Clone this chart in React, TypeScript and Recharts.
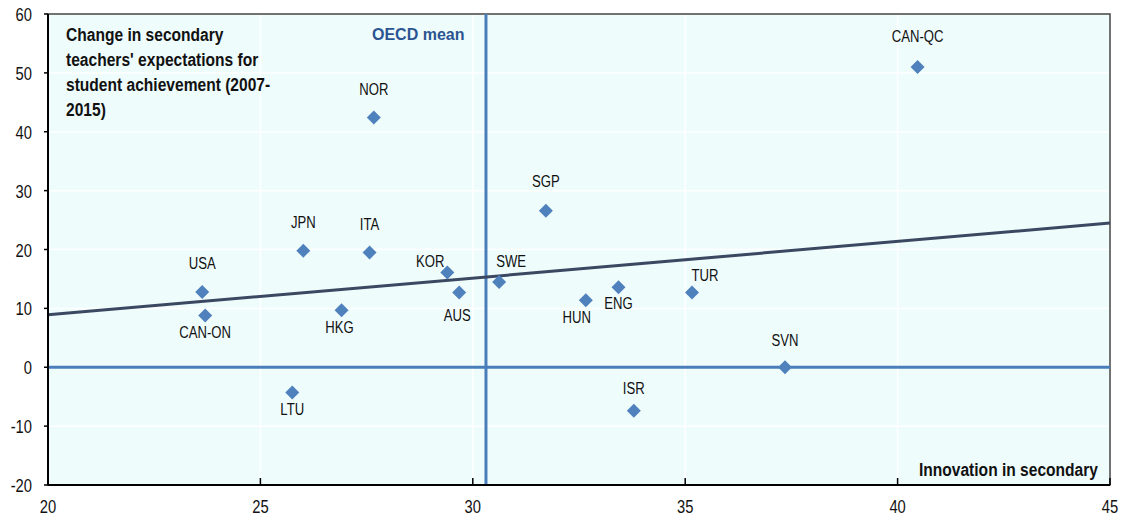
import React from 'react';
import {
  ScatterChart,
  Scatter,
  XAxis,
  YAxis,
  CartesianGrid,
  ReferenceLine,
  ReferenceArea,
} from 'recharts';

// ---- Data ----
const countries = [
  'CAN-QC', 'NOR', 'SGP', 'JPN', 'ITA', 'KOR', 'USA', 'AUS', 'SWE',
  'HUN', 'ENG', 'TUR', 'CAN-ON', 'HKG', 'LTU', 'ISR', 'SVN',
];
const innovationSecondary = [
  40.47, 27.67, 31.72, 26.01, 27.57, 29.4, 23.63, 29.68, 30.62,
  32.66, 33.43, 35.16, 23.7, 26.91, 25.75, 33.79, 37.35,
];
const expectationChange = [
  51.0, 42.4, 26.6, 19.8, 19.5, 16.1, 12.8, 12.7, 14.5,
  11.4, 13.6, 12.7, 8.8, 9.7, -4.3, -7.4, 0.0,
];
const xTicks = [20, 25, 30, 35, 40, 45];
const yTicks = [-20, -10, 0, 10, 20, 30, 40, 50, 60];
const oecdMean = 30.31;
const trendX = [20, 45];
const trendY = [8.9, 24.5];

const titleLines = [
  'Change in secondary',
  "teachers' expectations for",
  'student achievement (2007-',
  '2015)',
];
const xAxisTitle = 'Innovation in secondary';
const meanLabel = 'OECD mean';

// label placement (pixel offsets of label centre from marker centre)
const labelOffsets: Record<string, [number, number]> = {
  'CAN-QC': [0, -30],
  NOR: [0, -28],
  SGP: [0, -29],
  JPN: [0, -28],
  ITA: [0, -28],
  KOR: [-17, -11],
  USA: [0, -28],
  AUS: [-2, 23],
  SWE: [12, -20],
  HUN: [-9, 17],
  ENG: [0, 16],
  TUR: [13, -17],
  'CAN-ON': [0, 17],
  HKG: [-2, 17],
  LTU: [0, 17],
  ISR: [0, -22],
  SVN: [0, -27],
};

const data = countries.map((name, i) => ({
  name,
  x: innovationSecondary[i],
  y: expectationChange[i],
}));

const FONT = "'Liberation Sans', Arial, sans-serif";
const POINT = '#4f81bd';
const SQUEEZE = 0.82;

// condensed text (emulates a narrow sans face)
const NText = ({ x, y, children, anchor = 'start', size = 16, bold = false, fill = '#111', baseline }: any) => (
  <text
    transform={`translate(${x} ${y}) scale(${SQUEEZE} 1)`}
    textAnchor={anchor}
    dominantBaseline={baseline}
    fontFamily={FONT}
    fontSize={size}
    fontWeight={bold ? 'bold' : 'normal'}
    fill={fill}
  >
    {children}
  </text>
);

const DiamondWithLabel = (props: any) => {
  const { cx, cy, payload } = props;
  if (cx == null || cy == null) return null;
  const r = 7;
  const off = labelOffsets[payload.name] || [0, -28];
  return (
    <g>
      <polygon
        points={`${cx},${cy - r} ${cx + r},${cy} ${cx},${cy + r} ${cx - r},${cy}`}
        fill={POINT}
      />
      <NText x={cx + off[0]} y={cy + off[1]} anchor="middle" baseline="central" size={16}>
        {payload.name}
      </NText>
    </g>
  );
};

const XTick = (props: any) => {
  const { x, y, payload } = props;
  return (
    <g>
      <line x1={x} x2={x} y1={y} y2={y - 7} stroke="#000" strokeWidth={1.5} />
      <NText x={x} y={y + 28} anchor="middle" size={18}>
        {payload.value}
      </NText>
    </g>
  );
};

const YTick = (props: any) => {
  const { x, y, payload } = props;
  return (
    <g>
      <line x1={x} x2={x - 4} y1={y} y2={y} stroke="#000" strokeWidth={1.5} />
      <NText x={x - 16} y={y + 7} anchor="end" size={18}>
        {payload.value}
      </NText>
    </g>
  );
};

export default function App() {
  const W = 1121;
  const H = 517;
  return (
    <div style={{ position: 'absolute', left: 0, top: 0, width: W, height: H, background: '#fff' }}>
      <ScatterChart
        width={W}
        height={H}
        margin={{ top: 14, right: 11, bottom: 0, left: 0 }}
      >
        <CartesianGrid fill="#effcfc" stroke="#ffffff" strokeWidth={1.5} />
        <XAxis
          type="number"
          dataKey="x"
          domain={[20, 45]}
          ticks={xTicks}
          allowDataOverflow
          height={32}
          tickSize={0}
          tickMargin={0}
          tick={<XTick />}
          axisLine={{ stroke: '#000', strokeWidth: 2 }}
          tickLine={false}
        />
        <YAxis
          type="number"
          dataKey="y"
          domain={[-20, 60]}
          ticks={yTicks}
          allowDataOverflow
          width={48}
          tickSize={0}
          tickMargin={0}
          tick={<YTick />}
          axisLine={{ stroke: '#000', strokeWidth: 2 }}
          tickLine={false}
        />
        <ReferenceArea
          x1={20}
          x2={45}
          y1={-20}
          y2={60}
          fill="none"
          fillOpacity={0}
          stroke="#444"
          strokeWidth={1.5}
        />
        <ReferenceLine x={oecdMean} stroke="#4a7ebb" strokeWidth={3} />
        <ReferenceLine y={0} stroke="#4a7ebb" strokeWidth={3} />
        <ReferenceLine
          segment={[
            { x: trendX[0], y: trendY[0] },
            { x: trendX[1], y: trendY[1] },
          ]}
          stroke="#3b4862"
          strokeWidth={3}
        />
        <Scatter data={data} shape={<DiamondWithLabel />} isAnimationActive={false} />
      </ScatterChart>
      <svg
        width={W}
        height={H}
        style={{ position: 'absolute', left: 0, top: 0, pointerEvents: 'none' }}
      >
        {titleLines.map((t, i) => (
          <NText key={i} x={66} y={41 + i * 25} size={19} bold>
            {t}
          </NText>
        ))}
        <text x={372} y={40} fontFamily={FONT} fontWeight="bold" fontSize={16} fill="#2a5591">
          {meanLabel}
        </text>
        <NText x={1098} y={476} anchor="end" size={19} bold>
          {xAxisTitle}
        </NText>
      </svg>
    </div>
  );
}
